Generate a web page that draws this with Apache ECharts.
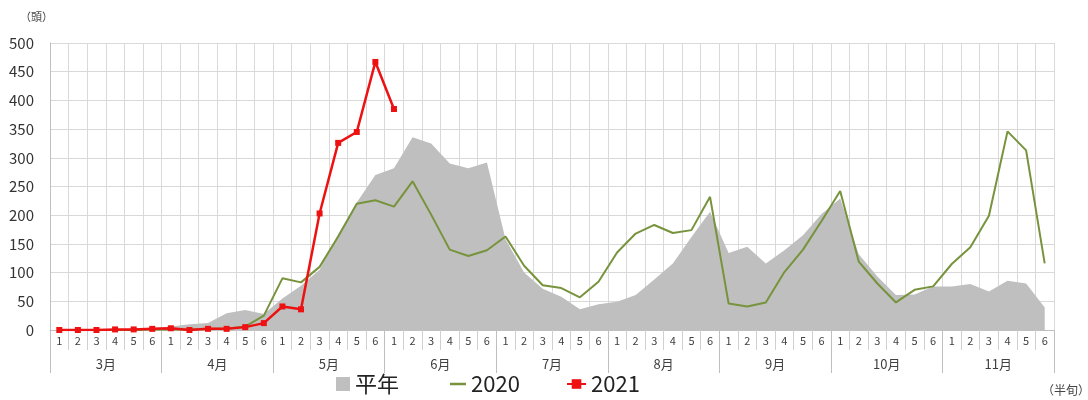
<!DOCTYPE html>
<html>
<head>
<meta charset="utf-8">
<script src="https://cdn.jsdelivr.net/npm/echarts@6/dist/echarts.min.js"></script>
<style>
html,body{margin:0;padding:0;background:#fff;}
#c{width:1088px;height:400px;}
</style>
</head>
<body>
<div id="c"></div>
<script>
var months = ['3月','4月','5月','6月','7月','8月','9月','10月','11月'];
var halfPeriods = ['1','2','3','4','5','6'];
var yTicks = [0,50,100,150,200,250,300,350,400,450,500];

var normalYear = [
  0,0,1,1,2,3,
  6,10,12,29,35,28,
  55,77,105,167,222,270,
  282,336,325,290,282,292,
  158,100,72,58,36,45,
  49,61,88,116,162,206,
  134,145,116,139,165,202,
  229,132,93,61,62,76,
  76,80,67,86,81,39
];
var y2020 = [
  0,0,0,0,0,1,
  1,1,2,2,6,25,
  90,83,110,163,220,226,
  215,259,201,140,129,139,
  163,112,78,73,57,84,
  135,168,183,169,174,232,
  46,41,48,101,140,190,
  242,119,81,48,70,76,
  115,144,199,346,313,116
];
var y2021 = [
  0,0,0,1,1,2,
  3,0,2,2,5,12,
  41,36,203,326,345,467,
  385
];

var categories = [];
months.forEach(function(m){ halfPeriods.forEach(function(h){ categories.push(h); }); });

var FONT = '"Noto Sans CJK JP","Noto Sans",sans-serif';
var chart = echarts.init(document.getElementById('c'));
chart.setOption({
  backgroundColor:'#fff',
  animation:false,
  textStyle:{fontFamily:FONT},
  grid:{left:50,right:34,top:43,bottom:70},
  xAxis:[{
    type:'category',
    data:categories,
    boundaryGap:true,
    axisLine:{show:true,lineStyle:{color:'#bfbfbf',width:1}},
    axisTick:{show:true,interval:0,length:20,lineStyle:{color:'#d0d0d0'}},
    axisLabel:{interval:0,margin:5,fontSize:11,color:'#404040',fontFamily:FONT},
    splitLine:{show:true,interval:0,lineStyle:{color:'#d9d9d9',width:1}}
  },{
    type:'category',
    data:months,
    position:'bottom',
    boundaryGap:true,
    axisLine:{show:false},
    axisTick:{show:true,interval:0,length:43,lineStyle:{color:'#bfbfbf'}},
    axisLabel:{interval:0,margin:28,fontSize:13,color:'#404040',fontFamily:FONT},
    splitLine:{show:false}
  }],
  yAxis:{
    type:'value',
    min:yTicks[0],max:yTicks[yTicks.length-1],interval:50,
    axisLine:{show:true,lineStyle:{color:'#bfbfbf'}},
    axisTick:{show:false},
    axisLabel:{fontSize:15,color:'#333',margin:16,fontFamily:FONT},
    splitLine:{show:true,lineStyle:{color:'#d9d9d9',width:1}}
  },
  legend:[{
    data:['平年'],left:336,top:373,padding:0,icon:'rect',itemWidth:14,itemHeight:14,itemGap:0,
    textStyle:{fontSize:22,color:'#222',fontFamily:FONT}
  },{
    data:['2020'],left:450,top:373,padding:0,icon:'rect',itemWidth:16,itemHeight:2.5,itemGap:0,
    textStyle:{fontSize:22,color:'#222',fontFamily:FONT}
  },{
    data:['2021'],left:566,top:373,padding:0,itemWidth:19,itemHeight:12,itemGap:0,
    textStyle:{fontSize:22,color:'#222',fontFamily:FONT}
  }],
  graphic:[{
    type:'text',left:20,top:11,style:{text:'（頭）',fontSize:11,fill:'#444',fontFamily:FONT}
  },{
    type:'text',left:1042,top:384,style:{text:'（半旬）',fontSize:12,fill:'#444',fontFamily:FONT}
  }],
  series:[{
    name:'平年',type:'line',data:normalYear,symbol:'none',
    lineStyle:{width:0},itemStyle:{color:'#bfbfbf'},
    areaStyle:{color:'#bfbfbf',opacity:1},z:1
  },{
    name:'2020',type:'line',data:y2020,symbol:'none',
    lineStyle:{width:2,color:'#77933c'},itemStyle:{color:'#77933c'},z:2
  },{
    name:'2021',type:'line',data:y2021,symbol:'rect',symbolSize:6,showSymbol:true,
    lineStyle:{width:2.5,color:'#ee1111'},itemStyle:{color:'#ee1111'},z:3
  }]
});
</script>
</body>
</html>
